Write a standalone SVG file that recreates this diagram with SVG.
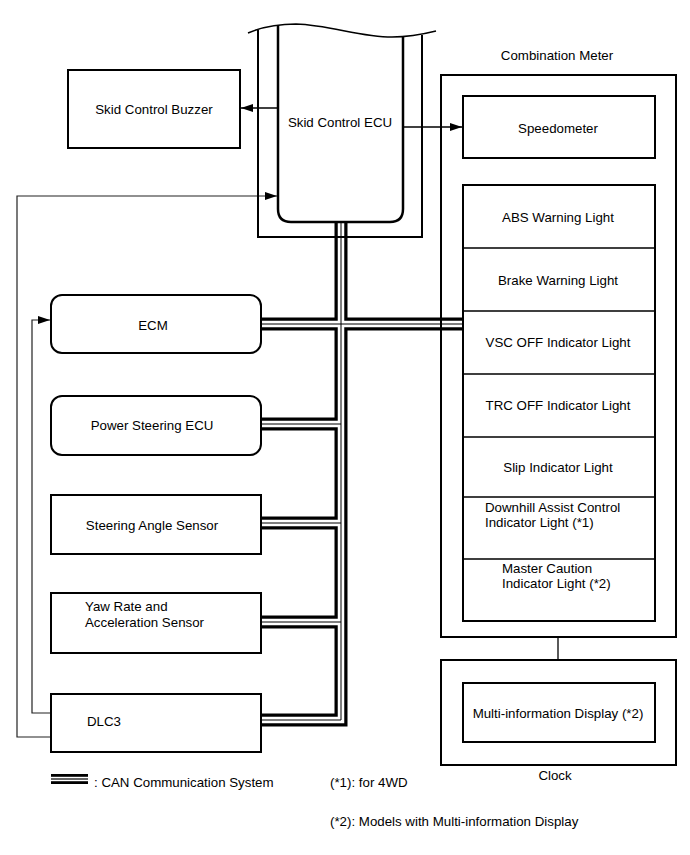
<svg xmlns="http://www.w3.org/2000/svg" width="690" height="855" viewBox="0 0 690 855">
<defs>
<style>
text{font-family:"Liberation Sans",Arial,sans-serif;font-size:13.3px;fill:#000}
.c{text-anchor:middle}
.box{fill:#fff;stroke:#000;stroke-width:2}
.thin{fill:none;stroke:#000;stroke-width:1.3}
.fb{fill:none;stroke:#222;stroke-width:1.2}
.busA{fill:none;stroke:#000;stroke-width:13;stroke-linejoin:miter}
.busB{fill:none;stroke:#fff;stroke-width:6.5;stroke-linejoin:miter}
.busC{fill:none;stroke:#000;stroke-width:1;stroke-linejoin:miter}
</style>
<marker id="arr" viewBox="0 0 12 8" refX="12" refY="4" markerWidth="12" markerHeight="8" markerUnits="userSpaceOnUse" orient="auto">
<path d="M0,0 L12,4 L0,8 Z" fill="#000"/>
</marker>
</defs>
<rect width="690" height="855" fill="#fff"/>

<g id="connectors">
<g id="can-bus">
<path class="busA" d="M341,222 V720 H261 M261,324 H462 M261,424 H341 M261,523 H341 M261,622 H341"/>
<path class="busB" d="M341,222 V720 H261 M261,324 H462 M261,424 H341 M261,523 H341 M261,622 H341"/>
<path class="busC" d="M341,222 V720 H261 M261,324 H462 M261,424 H341 M261,523 H341 M261,622 H341"/>
</g>
<path class="thin" d="M278,108 H241" marker-end="url(#arr)"/>
<path class="thin" d="M403,127 H462" marker-end="url(#arr)"/>
<path class="fb" d="M50,713 H32 V320 H50" marker-end="url(#arr)"/>
<path class="fb" d="M50,737 H17 V196 H277" marker-end="url(#arr)"/>
<path class="thin" d="M558,637 V660"/>
</g>

<g id="skid-control-ecu">
<path d="M258,30 V237 H422 V35" fill="none" stroke="#000" stroke-width="2"/>
<path d="M278,25 V209 Q278,222 291,222 H390 Q403,222 403,209 V37" fill="none" stroke="#000" stroke-width="2.5"/>
<path d="M248,33 C262,27 278,24 296,24 C330,25 360,37 392,37 C410,37 424,34 436,31" fill="none" stroke="#000" stroke-width="1.5"/>
<text class="c" x="340" y="126.5">Skid Control ECU</text>
</g>

<g id="skid-control-buzzer">
<rect class="box" x="68" y="70" width="172" height="78"/>
<text class="c" x="154" y="113.5">Skid Control Buzzer</text>
</g>

<g id="ecm">
<rect class="box" x="51" y="295" width="210" height="58" rx="11"/>
<text class="c" x="153" y="329.5">ECM</text>
</g>
<g id="power-steering-ecu">
<rect class="box" x="51" y="396" width="210" height="59" rx="11"/>
<text class="c" x="152" y="429.5">Power Steering ECU</text>
</g>
<g id="steering-angle-sensor">
<rect class="box" x="51" y="495" width="210" height="59"/>
<text class="c" x="152" y="529.5">Steering Angle Sensor</text>
</g>
<g id="yaw-rate-sensor">
<rect class="box" x="51" y="593" width="210" height="60"/>
<text x="85" y="610.5">Yaw Rate and</text>
<text x="85" y="626.5">Acceleration Sensor</text>
</g>
<g id="dlc3">
<rect class="box" x="51" y="694" width="210" height="58"/>
<text x="87" y="725.5">DLC3</text>
</g>

<g id="combination-meter">
<text class="c" x="557" y="59.5">Combination Meter</text>
<rect class="box" x="441" y="75" width="235" height="562" style="fill:none"/>
</g>
<g id="speedometer">
<rect class="box" x="463" y="96" width="192" height="62"/>
<text class="c" x="558" y="132.5">Speedometer</text>
</g>
<g id="warning-lights">
<rect class="box" x="463" y="185" width="192" height="436" style="fill:none"/>
<path d="M463,248 H655 M463,311 H655 M463,374 H655 M463,437 H655 M463,497 H655 M463,559 H655" stroke="#000" stroke-width="1.5" fill="none"/>
<text class="c" x="558" y="221.5">ABS Warning Light</text>
<text class="c" x="558" y="284.5">Brake Warning Light</text>
<text class="c" x="558" y="346.5">VSC OFF Indicator Light</text>
<text class="c" x="558" y="409.5">TRC OFF Indicator Light</text>
<text class="c" x="558" y="471.5">Slip Indicator Light</text>
<text x="485" y="512">Downhill Assist Control</text>
<text x="485" y="527">Indicator Light (*1)</text>
<text x="502" y="573">Master Caution</text>
<text x="502" y="588">Indicator Light (*2)</text>
</g>

<g id="clock">
<rect class="box" x="441" y="660" width="235" height="105"/>
<rect class="box" x="463" y="683" width="192" height="59"/>
<text class="c" x="558" y="717.5">Multi-information Display (*2)</text>
<text class="c" x="555" y="779.5">Clock</text>
</g>

<g id="legend">
<rect x="51" y="774" width="37" height="10" fill="#000"/>
<rect x="51" y="776.8" width="37" height="1.6" fill="#fff"/>
<rect x="51" y="779.6" width="37" height="1.6" fill="#fff"/>
<text x="94" y="787">: CAN Communication System</text>
<text x="330" y="787">(*1): for 4WD</text>
<text x="330" y="826">(*2): Models with Multi-information Display</text>
</g>
</svg>
